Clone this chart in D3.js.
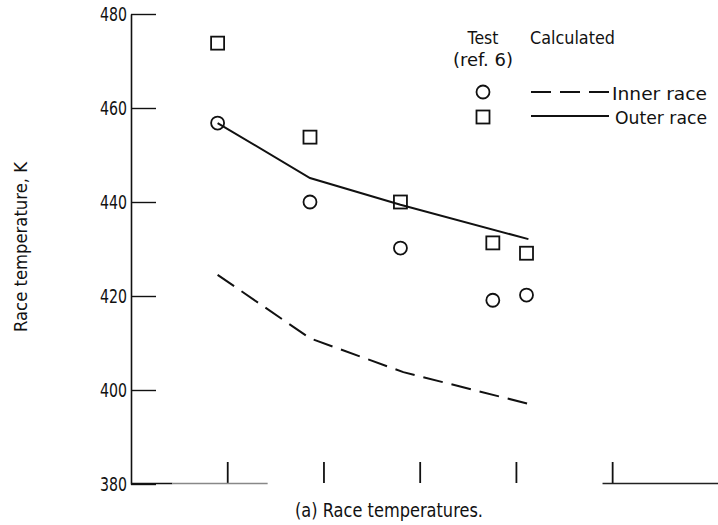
<!DOCTYPE html>
<html>
<head>
<meta charset="utf-8">
<script src="https://cdn.jsdelivr.net/npm/d3@7"></script>
<style>
  body { margin: 0; background: #fff; }
  svg { display: block; }
  text { font-family: "DejaVu Sans", sans-serif; fill: #111; }
  .marker { fill: none; stroke: #111; stroke-width: 1.8; }
  .calc { fill: none; stroke: #111; stroke-width: 2; }
</style>
</head>
<body>
<svg id="chart" width="718" height="525"></svg>
<script>
// Test data (ref. 6), x in run positions along the unlabeled axis
const testX = [0.9, 1.86, 2.8, 3.76, 4.11];
const innerTest = [456.8, 440, 430.2, 419.1, 420.2];
const outerTest = [473.8, 453.8, 440, 431.3, 429.1];

// Calculated curves
const innerCalcX = [0.9, 1.86, 2.83, 4.18];
const innerCalc = [424.5, 411, 403.8, 396.8];
const outerCalcX = [0.9, 1.86, 2.8, 4.13];
const outerCalc = [456.8, 445.1, 439.4, 432.1];

// Axis ticks
const yTicks = [380, 400, 420, 440, 460, 480];
const xTicks = [1, 2, 3, 4, 5];

const svg = d3.select("#chart");

// Scales
const x = d3.scaleLinear().domain([0, 6.1]).range([131, 718]);
const y = d3.scaleLinear().domain([380, 480]).range([484, 14]);

// narrow lettering of the original: squeeze text into a measured width
function label(parent, px, py, str, size, width, anchor) {
  return parent
    .append("text")
    .attr("x", px)
    .attr("y", py)
    .attr("text-anchor", anchor || "start")
    .attr("font-size", size)
    .attr("textLength", width)
    .attr("lengthAdjust", "spacingAndGlyphs")
    .text(str);
}

// Y axis, ticks pointing into the plot
const yAxis = svg
  .append("g")
  .attr("transform", `translate(${x(0)},0)`)
  .call(
    d3.axisLeft(y).tickValues(yTicks).tickSizeInner(-25).tickSizeOuter(0).tickPadding(4)
  );
yAxis.select(".domain").attr("stroke", "#111").attr("stroke-width", 1.6);
yAxis.selectAll(".tick line").attr("stroke", "#111").attr("stroke-width", 1.4);
yAxis
  .selectAll(".tick text")
  .attr("font-size", 19.5)
  .attr("textLength", 27)
  .attr("lengthAdjust", "spacingAndGlyphs")
  .attr("fill", "#111")
  .style("font-family", '"DejaVu Sans", sans-serif');

// X axis: ticks only, baseline drawn in pieces like the original
const xAxis = svg
  .append("g")
  .attr("transform", `translate(0,${y(380) - 1})`)
  .call(d3.axisBottom(x).tickValues(xTicks).tickSizeInner(-21).tickSizeOuter(0).tickFormat(""));
xAxis.select(".domain").remove();
xAxis.selectAll(".tick line").attr("stroke", "#111").attr("stroke-width", 1.8);

const baseline = d3.line().x((d) => x(d)).y(() => y(380) - 0.5);
svg.append("path").attr("d", baseline([0, 0.43])).attr("stroke", "#111").attr("stroke-width", 1.6);
svg
  .append("path")
  .attr("d", baseline([0.43, 1.42]))
  .attr("stroke", "#888")
  .attr("stroke-width", 1.4);
svg.append("path").attr("d", baseline([4.9, 6.1])).attr("stroke", "#222").attr("stroke-width", 1.6);

// Calculated lines
const line = d3
  .line()
  .x((d) => x(d[0]))
  .y((d) => y(d[1]));

svg
  .append("path")
  .attr("class", "calc")
  .attr("d", line(d3.zip(outerCalcX, outerCalc)));

svg
  .append("path")
  .attr("class", "calc")
  .attr("stroke-dasharray", "20,9")
  .attr("d", line(d3.zip(innerCalcX, innerCalc)));

// Test points
const half = 6.5;
svg
  .selectAll(".inner-pt")
  .data(d3.zip(testX, innerTest))
  .join("circle")
  .attr("class", "marker")
  .attr("cx", (d) => x(d[0]))
  .attr("cy", (d) => y(d[1]))
  .attr("r", half);

svg
  .selectAll(".outer-pt")
  .data(d3.zip(testX, outerTest))
  .join("rect")
  .attr("class", "marker")
  .attr("x", (d) => x(d[0]) - half)
  .attr("y", (d) => y(d[1]) - half)
  .attr("width", half * 2)
  .attr("height", half * 2);

// Legend
const legend = svg.append("g");
label(legend, 483, 44, "Test", 18.5, 31, "middle");
label(legend, 483, 66, "(ref. 6)", 17, 60, "middle");
label(legend, 530, 44, "Calculated", 18.5, 85);

legend.append("circle").attr("class", "marker").attr("cx", 483).attr("cy", 92).attr("r", half);
legend.append("rect").attr("class", "marker")
  .attr("x", 483 - half).attr("y", 117 - half).attr("width", half * 2).attr("height", half * 2);

legend.append("path").attr("class", "calc").attr("stroke-dasharray", "20,9")
  .attr("d", "M531,92H609");
legend.append("path").attr("class", "calc").attr("d", "M531,116H609");
label(legend, 612, 100, "Inner race", 18, 95);
label(legend, 615, 124, "Outer race", 18, 92);

// Axis title and caption
label(svg.append("g").attr("transform", "translate(27,247) rotate(-90)"),
  0, 0, "Race temperature, K", 18, 170, "middle");

label(svg, 389, 517, "(a) Race temperatures.", 20, 188, "middle");
</script>
</body>
</html>
